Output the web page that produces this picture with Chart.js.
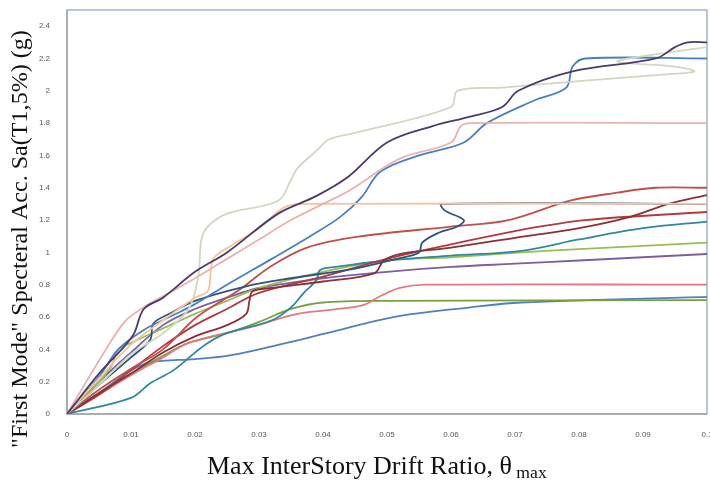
<!DOCTYPE html>
<html lang="en">
<head>
<meta charset="UTF-8">
<title>IDA curves</title>
<script src="https://cdn.jsdelivr.net/npm/chart.js@4.4.0/dist/chart.umd.min.js"></script>
<style>
  body { margin: 0; background: #fff; }
  #wrap { width: 710px; height: 486px; }
</style>
</head>
<body>
<div id="wrap"><canvas id="myChart" width="710" height="486"></canvas></div>
<script>
// tick labels
var xTicks = [0, 0.01, 0.02, 0.03, 0.04, 0.05, 0.06, 0.07, 0.08, 0.09, 0.1];
var yTicks = [0, 0.2, 0.4, 0.6, 0.8, 1, 1.2, 1.4, 1.6, 1.8, 2, 2.2, 2.4];

// one array per record: [drift ratio, Sa]
var darkPurple = [[0,0],[0.005,0.25],[0.009,0.42],[0.0105,0.5],[0.012,0.65],[0.015,0.72],[0.02,0.88],[0.025,1.0],[0.033,1.24],[0.039,1.35],[0.044,1.47],[0.05,1.68],[0.057,1.78],[0.063,1.84],[0.068,1.9],[0.0705,2.0],[0.079,2.12],[0.092,2.2],[0.095,2.27],[0.097,2.3],[0.1,2.3]];
var lightPink = [[0,0],[0.005,0.33],[0.009,0.57],[0.012,0.66],[0.016,0.75],[0.02,0.84],[0.025,0.96],[0.03,1.08],[0.035,1.2],[0.04,1.3],[0.044,1.38],[0.052,1.58],[0.06,1.68],[0.0615,1.78],[0.063,1.8],[0.1,1.8]];
var peach = [[0,0],[0.005,0.22],[0.01,0.43],[0.015,0.58],[0.02,0.72],[0.022,0.76],[0.0225,0.9],[0.023,0.97],[0.026,1.05],[0.03,1.15],[0.034,1.28],[0.037,1.3],[0.1,1.3]];
var sage = [[0,0],[0.005,0.18],[0.01,0.37],[0.015,0.5],[0.019,0.65],[0.0205,0.85],[0.021,1.08],[0.022,1.16],[0.025,1.24],[0.033,1.32],[0.035,1.45],[0.036,1.52],[0.039,1.63],[0.041,1.7],[0.045,1.74],[0.06,1.9],[0.061,2.0],[0.068,2.02],[0.08,2.06],[0.093,2.1],[0.098,2.12],[0.095,2.15],[0.086,2.18],[0.091,2.22],[0.1,2.27]];
var blue = [[0,0],[0.005,0.23],[0.008,0.4],[0.012,0.52],[0.016,0.6],[0.02,0.68],[0.025,0.8],[0.032,0.96],[0.038,1.1],[0.0427,1.22],[0.046,1.34],[0.049,1.5],[0.055,1.6],[0.062,1.68],[0.0656,1.8],[0.073,1.94],[0.078,2.02],[0.079,2.15],[0.081,2.2],[0.1,2.2]];
var darkSteel = [[0,0],[0.005,0.18],[0.01,0.35],[0.013,0.46],[0.0135,0.56],[0.016,0.62],[0.02,0.7],[0.028,0.79],[0.035,0.84],[0.045,0.9],[0.052,0.965],[0.055,1.0],[0.0555,1.06],[0.058,1.12],[0.061,1.16],[0.062,1.2],[0.059,1.26],[0.0585,1.3],[0.1,1.3]];
var red = [[0,0],[0.005,0.15],[0.01,0.28],[0.015,0.4],[0.0203,0.6],[0.027,0.77],[0.0317,0.91],[0.0375,1.03],[0.046,1.1],[0.06,1.16],[0.069,1.2],[0.0786,1.32],[0.086,1.37],[0.092,1.4],[0.1,1.4]];
var darkRed = [[0,0],[0.005,0.13],[0.01,0.25],[0.015,0.38],[0.02,0.48],[0.025,0.55],[0.028,0.62],[0.0285,0.7],[0.029,0.76],[0.032,0.78],[0.04,0.82],[0.048,0.87],[0.0495,0.95],[0.052,0.99],[0.06,1.03],[0.07,1.09],[0.08,1.15],[0.088,1.22],[0.094,1.3],[0.1,1.355]];
var red2 = [[0,0],[0.005,0.12],[0.01,0.27],[0.015,0.42],[0.02,0.55],[0.025,0.65],[0.03,0.75],[0.04,0.85],[0.05,0.96],[0.06,1.05],[0.071,1.14],[0.081,1.2],[0.1,1.25]];
var teal = [[0,0],[0.01,0.1],[0.013,0.19],[0.0166,0.27],[0.02,0.38],[0.022,0.44],[0.025,0.5],[0.032,0.58],[0.035,0.66],[0.037,0.75],[0.039,0.83],[0.0395,0.89],[0.042,0.91],[0.05,0.95],[0.06,0.98],[0.071,1.01],[0.08,1.08],[0.09,1.15],[0.1,1.19]];
var yellowGreen = [[0,0],[0.005,0.2],[0.007,0.3],[0.008,0.4],[0.01,0.44],[0.015,0.53],[0.02,0.62],[0.025,0.7],[0.03,0.78],[0.04,0.88],[0.05,0.95],[0.06,0.97],[0.071,1.0],[0.08,1.02],[0.1,1.06]];
var purple = [[0,0],[0.005,0.2],[0.01,0.38],[0.015,0.55],[0.02,0.65],[0.025,0.72],[0.03,0.78],[0.04,0.84],[0.05,0.88],[0.06,0.91],[0.07,0.93],[0.08,0.95],[0.1,0.99]];
var pinkRed = [[0,0],[0.005,0.12],[0.01,0.24],[0.015,0.35],[0.019,0.44],[0.029,0.54],[0.036,0.62],[0.046,0.67],[0.049,0.73],[0.052,0.78],[0.056,0.8],[0.1,0.8]];
var green = [[0,0],[0.005,0.12],[0.01,0.25],[0.015,0.36],[0.019,0.44],[0.025,0.5],[0.03,0.57],[0.035,0.65],[0.04,0.69],[0.05,0.7],[0.1,0.705]];
var lowBlue = [[0,0],[0.005,0.13],[0.01,0.27],[0.013,0.32],[0.02,0.34],[0.025,0.36],[0.03,0.4],[0.0406,0.5],[0.051,0.6],[0.063,0.66],[0.071,0.69],[0.1,0.725]];

var series = [
  [darkPurple, '#4b3a6b'], [lightPink, '#e9b3b3'], [peach, '#f7c39d'], [sage, '#cfd8c2'],
  [blue, '#4a80c2'], [darkSteel, '#2f5577'], [red, '#c0504d'], [darkRed, '#8c2f36'],
  [red2, '#b23a3f'], [teal, '#2e8a9e'], [yellowGreen, '#9bbb59'], [purple, '#7b5fa0'],
  [pinkRed, '#e07a80'], [green, '#77a043'], [lowBlue, '#4f81bd']
];

var datasets = series.map(function (s) {
  return {
    data: s[0].map(function (p) { return { x: p[0], y: p[1] }; }),
    borderColor: s[1],
    borderWidth: 1.8,
    showLine: true,
    pointRadius: 0,
    tension: 0.35,
    fill: false
  };
});

// draw text scaled so it spans a given width
function fitFont(ctx, text, width) {
  ctx.font = '20px "Liberation Serif"';
  return 20 * width / ctx.measureText(text).width;
}

// frame and axis titles
var framePlugin = {
  id: 'frame',
  beforeDatasetsDraw: function (chart) {
    var a = chart.chartArea, ctx = chart.ctx;
    ctx.save();
    ctx.strokeStyle = '#9fb4d0';
    ctx.lineWidth = 1.5;
    ctx.strokeRect(a.left, a.top, a.right - a.left, a.bottom - a.top);
    ctx.strokeStyle = '#a6a6a6';
    ctx.beginPath();
    ctx.moveTo(a.left, a.top); ctx.lineTo(a.left, a.bottom); ctx.lineTo(a.right, a.bottom);
    ctx.stroke();
    ctx.restore();
  },
  afterDraw: function (chart) {
    var ctx = chart.ctx;
    ctx.save();
    ctx.fillStyle = '#111';
    ctx.textBaseline = 'middle';
    // x title with subscript
    var main = 'Max InterStory Drift Ratio, \u03b8';
    var fs = fitFont(ctx, main, 305);
    ctx.font = fs + 'px "Liberation Serif"';
    var w1 = ctx.measureText(main).width;
    ctx.textAlign = 'left';
    ctx.fillText(main, 207, 467);
    ctx.font = (fs * 0.68) + 'px "Liberation Serif"';
    ctx.fillText(' max', 207 + w1, 473);
    // y title
    var yt = '"First Mode" Specteral Acc. Sa(T1,5%) (g)';
    var fy = fitFont(ctx, yt, 418);
    ctx.translate(21, 239);
    ctx.rotate(-Math.PI / 2);
    ctx.font = fy + 'px "Liberation Serif"';
    ctx.textAlign = 'center';
    ctx.fillText(yt, 0, 0);
    ctx.restore();
  }
};

var ctx = document.getElementById('myChart').getContext('2d');
var myChart = new Chart(ctx, {
  type: 'scatter',
  data: { datasets: datasets },
  options: {
    responsive: false,
    animation: false,
    layout: { padding: { left: 0, right: 3, top: 10, bottom: 0 } },
    plugins: { legend: { display: false }, tooltip: { enabled: false } },
    scales: {
      x: {
        type: 'linear', min: 0, max: 0.1,
        grid: { display: false },
        border: { display: false },
        afterFit: function (s) { s.height = 72; s.paddingLeft = 0; s.paddingRight = 0; },
        afterBuildTicks: function (s) { s.ticks = xTicks.map(function (v) { return { value: v }; }); },
        ticks: {
          color: '#595959', font: { family: 'Liberation Sans', size: 8 }, padding: 8, maxRotation: 0,
          callback: function (v) { return String(+v.toFixed(2)); }
        }
      },
      y: {
        type: 'linear', min: 0, max: 2.5,
        grid: { display: false },
        border: { display: false },
        afterFit: function (s) { s.width = 67; s.paddingTop = 0; s.paddingBottom = 0; },
        afterBuildTicks: function (s) { s.ticks = yTicks.map(function (v) { return { value: v }; }); },
        ticks: {
          color: '#595959', font: { family: 'Liberation Sans', size: 8 }, padding: 9,
          callback: function (v) { return String(+v.toFixed(1)); }
        }
      }
    }
  },
  plugins: [framePlugin]
});
</script>
</body>
</html>
